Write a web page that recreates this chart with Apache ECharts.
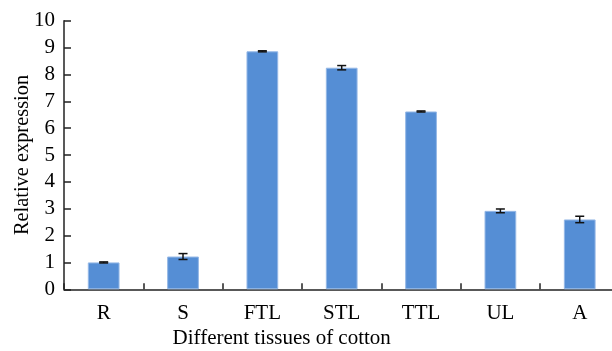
<!DOCTYPE html>
<html>
<head>
<meta charset="utf-8">
<script src="https://cdn.jsdelivr.net/npm/echarts@6/dist/echarts.min.js"></script>
<style>html,body{margin:0;padding:0;background:#fff}#c{width:612px;height:351px}</style>
</head>
<body>
<div id="c"></div>
<script>
const categories = ['R', 'S', 'FTL', 'STL', 'TTL', 'UL', 'A'];
const values = [1.0, 1.22, 8.86, 8.25, 6.62, 2.92, 2.60];
const errors = [0.02, 0.11, 0.02, 0.08, 0.02, 0.07, 0.12];
const yTicks = [0, 1, 2, 3, 4, 5, 6, 7, 8, 9, 10];

const font = 'Liberation Serif';
const chart = echarts.init(document.getElementById('c'), null, {renderer: 'canvas'});
const errData = categories.map((c, i) => [i, values[i] - errors[i], values[i] + errors[i]]);

chart.setOption({
  animation: false,
  grid: {left: 64, top: 20.7, bottom: 61.7, right: -7.4, containLabel: false, outerBoundsMode: 'none'},
  xAxis: {
    type: 'category',
    data: categories,
    axisLine: {lineStyle: {color: '#222', width: 1.5}},
    axisTick: {show: true, inside: true, length: 6, alignWithLabel: false, lineStyle: {color: '#222', width: 1.5}},
    axisLabel: {fontFamily: font, fontSize: 21, color: '#000', margin: 14},
    name: 'Different tissues of cotton',
    nameLocation: 'middle',
    nameGap: 39,
    nameMoveOverlap: false,
    nameTextStyle: {fontFamily: font, fontSize: 21, color: '#000', padding: [0, 120, 0, 0]}
  },
  yAxis: {
    type: 'value',
    min: yTicks[0],
    max: yTicks[yTicks.length - 1],
    interval: 1,
    splitLine: {show: false},
    axisLine: {show: true, lineStyle: {color: '#222', width: 1.5}},
    axisTick: {show: true, inside: true, length: 7, lineStyle: {color: '#222', width: 1.5}},
    axisLabel: {fontFamily: font, fontSize: 21, color: '#000', margin: 9},
    name: 'Relative expression',
    nameLocation: 'middle',
    nameGap: 31,
    nameMoveOverlap: false,
    nameTextStyle: {fontFamily: font, fontSize: 20.4, color: '#000'}
  },
  series: [
    {
      type: 'bar',
      data: values,
      barWidth: '40%',
      itemStyle: {color: '#558ED5', borderColor: '#95B8E6', borderWidth: 1}
    },
    {
      type: 'custom',
      data: errData,
      z: 10,
      renderItem: function (params, api) {
        const x = api.value(0);
        const lo = api.coord([x, api.value(1)]);
        const hi = api.coord([x, api.value(2)]);
        const hw = 4.5;
        const st = {stroke: '#111', lineWidth: 1.5};
        return {
          type: 'group',
          children: [
            {type: 'line', shape: {x1: lo[0], y1: lo[1], x2: hi[0], y2: hi[1]}, style: st},
            {type: 'line', shape: {x1: lo[0] - hw, y1: lo[1], x2: lo[0] + hw, y2: lo[1]}, style: st},
            {type: 'line', shape: {x1: hi[0] - hw, y1: hi[1], x2: hi[0] + hw, y2: hi[1]}, style: st}
          ]
        };
      }
    }
  ]
});
</script>
</body>
</html>
